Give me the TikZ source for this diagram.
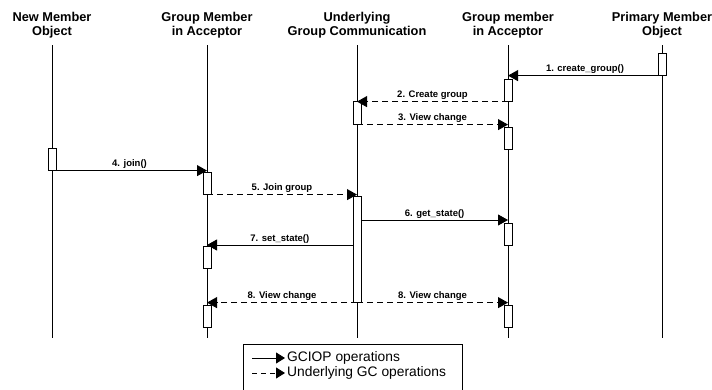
\documentclass[tikz,border=0pt]{standalone}
\usepackage{fontspec}
\setmainfont{Liberation Sans}
\usetikzlibrary{positioning, arrows.meta}

\begin{document}
\begin{tikzpicture}[
  x=1pt, y=-1pt,
  head/.style={font=\fontsize{12.8}{14}\selectfont\bfseries, align=center, anchor=north, inner sep=0pt},
  msg/.style={font=\fontsize{9.5}{10}\selectfont\bfseries, midway, above, inner sep=1.5pt},
  act/.style={draw, fill=white, line width=0.6pt, minimum width=8pt, inner sep=0pt, anchor=north},
  life/.style={line width=0.9pt},
  call/.style={line width=0.9pt, -{Triangle[length=10pt, width=11pt]}},
  async/.style={call, dash pattern=on 6pt off 4pt},
  legtext/.style={font=\fontsize{13.8}{15}\selectfont, anchor=west, inner sep=2pt}
]
  \useasboundingbox (0,0) rectangle (712,389);

  % Participants
  \node[head] (nmo) at (52,12)  {New Member\\Object};
  \node[head] (gma) at (207,12) {Group Member\\in Acceptor};
  \node[head] (ugc) at (357,12) {Underlying\\Group Communication};
  \node[head] (gmb) at (508,12) {Group member\\in Acceptor};
  \node[head] (pmo) at (662,12) {Primary Member\\Object};

  % Lifelines
  \coordinate (t1) at (52,45);  \coordinate (b1) at (52,338);
  \coordinate (t2) at (207,45); \coordinate (b2) at (207,338);
  \coordinate (t3) at (357,45); \coordinate (b3) at (357,338);
  \coordinate (t4) at (508,45); \coordinate (b4) at (508,338);
  \coordinate (t5) at (662,45); \coordinate (b5) at (662,338);
  \draw[life] (t1) -- (b1);
  \draw[life] (t2) -- (b2);
  \draw[life] (t3) -- (b3);
  \draw[life] (t4) -- (b4);
  \draw[life] (t5) -- (b5);

  % Activation boxes
  \node[act, minimum height=22pt]  (a1)  at (662,53)  {};
  \node[act, minimum height=22pt]  (a2)  at (508,79)  {};
  \node[act, minimum height=23pt]  (a3)  at (357,101) {};
  \node[act, minimum height=22pt]  (a4)  at (508,127) {};
  \node[act, minimum height=22pt]  (a5)  at (52,148)  {};
  \node[act, minimum height=22pt]  (a6)  at (207,172) {};
  \node[act, minimum height=106pt] (a7)  at (357,196) {};
  \node[act, minimum height=22pt]  (a8)  at (508,223) {};
  \node[act, minimum height=22pt]  (a9)  at (207,246) {};
  \node[act, minimum height=22pt]  (a10) at (207,305) {};
  \node[act, minimum height=22pt]  (a11) at (508,305) {};

  % Messages
  \draw[call] (a1.south) -- (a1.south -| t4) node[msg] {1. create\_group()};
  \draw[async] (a2.south) -- (a2.south -| t3) node[msg] {2. Create group};
  \draw[async] (a3.south) -- (a3.south -| t4) node[msg] {3. View change};
  \draw[call] (a5.south) -- (a5.south -| t2) node[msg] {4. join()};
  \draw[async] (a6.south) -- (a6.south -| t3) node[msg] {5. Join group};
  \coordinate (m6) at (357,220);
  \draw[call] (m6 -| a7.east) -- (m6 -| t4) node[msg] {6. get\_state()};
  \coordinate (m7) at (357,245);
  \draw[call] (m7 -| a7.west) -- (m7 -| t2) node[msg] {7. set\_state()};
  \draw[async] (a7.south) -- (a7.south -| t2) node[msg] {8. View change};
  \draw[async] (a7.south) -- (a7.south -| t4) node[msg] {8. View change};

  % Legend
  \draw[line width=0.6pt] (243,392) -- (243,344) -- (462,344) -- (462,392);
  \node[legtext] (lg1) at (285,358) {GCIOP operations};
  \node[legtext] (lg2) at (285,373) {Underlying GC operations};
  \coordinate (ls1) at (252,358);
  \coordinate (ls2) at (252,373);
  \draw[call, -{Triangle[length=9pt, width=11pt]}] (ls1) -- (lg1.west);
  \draw[async, dash pattern=on 5pt off 4pt, -{Triangle[length=9pt, width=11pt]}] (ls2) -- (lg2.west);
\end{tikzpicture}
\end{document}
